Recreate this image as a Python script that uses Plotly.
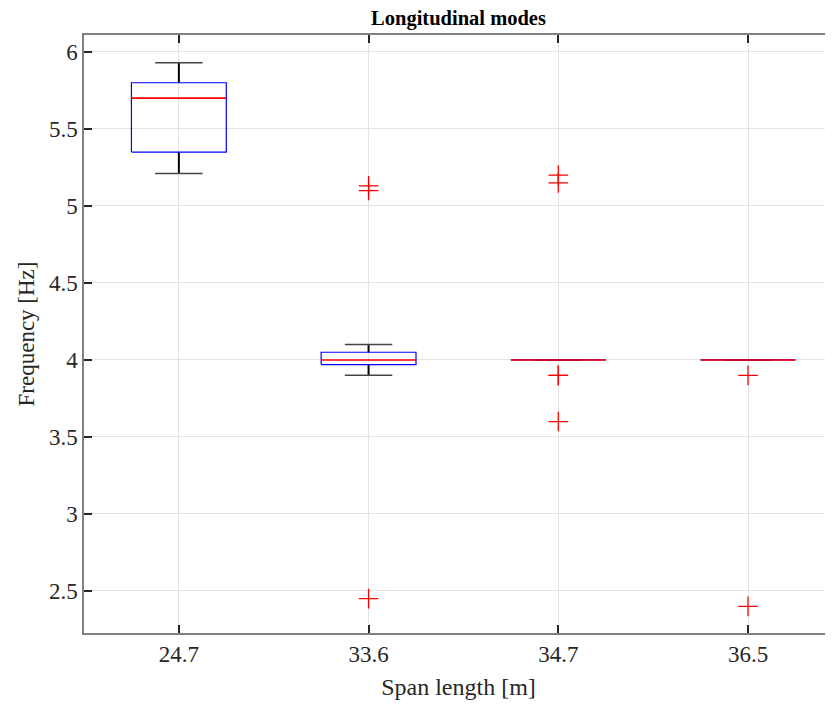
import plotly.graph_objects as go

categories = ["24.7", "33.6", "34.7", "36.5"]
q1 = [5.35, 3.97, 4.0, 4.0]
medians = [5.70, 4.0, 4.0, 4.0]
q3 = [5.80, 4.05, 4.0, 4.0]
lower_whisker = [5.21, 3.90, 4.0, 4.0]
upper_whisker = [5.93, 4.10, 4.0, 4.0]
outliers = [
    [],
    [5.13, 5.10, 2.45],
    [5.20, 5.15, 3.90, 3.90, 3.60],
    [3.90, 2.40],
]

BOX_HALF = 0.25
CAP_HALF = 0.125
FONT = "Liberation Serif, Times New Roman, serif"

# page body has an 8px default margin; compensate (and avoid a scrollbar)
OFF = 8
W, H = 833 - OFF, 709 - 2 * OFF

fig = go.Figure()
xs = list(range(1, len(categories) + 1))

# whiskers (vertical)
wx, wy = [], []
for x, lo, a, b, hi in zip(xs, lower_whisker, q1, q3, upper_whisker):
    wx += [x, x, None, x, x, None]
    wy += [b, hi, None, lo, a, None]
fig.add_trace(go.Scatter(x=wx, y=wy, mode="lines", line=dict(color="black", width=2),
                         hoverinfo="skip", showlegend=False))
# caps
cx, cy = [], []
for x, lo, hi in zip(xs, lower_whisker, upper_whisker):
    cx += [x - CAP_HALF, x + CAP_HALF, None, x - CAP_HALF, x + CAP_HALF, None]
    cy += [hi, hi, None, lo, lo, None]
fig.add_trace(go.Scatter(x=cx, y=cy, mode="lines", line=dict(color="#444444", width=1.5),
                         hoverinfo="skip", showlegend=False))
# boxes
bx, by = [], []
for x, a, b in zip(xs, q1, q3):
    bx += [x - BOX_HALF, x + BOX_HALF, x + BOX_HALF, x - BOX_HALF, x - BOX_HALF, None]
    by += [a, a, b, b, a, None]
fig.add_trace(go.Scatter(x=bx, y=by, mode="lines", line=dict(color="#0000ff", width=1.2),
                         hoverinfo="skip", showlegend=False))
# medians
mx, my = [], []
for x, m in zip(xs, medians):
    mx += [x - BOX_HALF, x + BOX_HALF, None]
    my += [m, m, None]
fig.add_trace(go.Scatter(x=mx, y=my, mode="lines", line=dict(color="#ff0000", width=1.6),
                         hoverinfo="skip", showlegend=False))
# outliers
ox, oy = [], []
for x, vals in zip(xs, outliers):
    for v in vals:
        ox.append(x)
        oy.append(v)
fig.add_trace(go.Scatter(x=ox, y=oy, mode="markers",
                         marker=dict(symbol="cross-thin", size=14,
                                     line=dict(color="#ff0000", width=1.3)),
                         hoverinfo="skip", showlegend=False))

fig.update_layout(
    width=W, height=H,
    margin=dict(l=84 - OFF, r=0, t=35 - OFF, b=709 - 633 - OFF, pad=0),
    plot_bgcolor="white", paper_bgcolor="white",
    font=dict(family=FONT, color="#262626"),
    title=dict(text="<b>Longitudinal modes</b>", x=((84 + 833) / 2 - OFF) / W, xref="container",
               xanchor="center",
               y=1 - (18 - OFF) / H, yanchor="middle", yref="container",
               font=dict(family=FONT, size=20.5, color="black")),
)
fig.update_xaxes(
    range=[0.5, 4.448], tickvals=xs, ticktext=categories,
    showgrid=True, gridcolor="#e3e3e3", gridwidth=1,
    showline=True, linecolor="#808080", linewidth=1.5, mirror="ticks",
    ticks="inside", ticklen=8, tickwidth=1.5, tickcolor="#262626",
    tickfont=dict(family=FONT, size=23, color="#262626"),
    title=dict(text="Span length [m]", font=dict(family=FONT, size=24, color="#262626"), standoff=12),
    zeroline=False, automargin=False,
)
fig.update_yaxes(
    range=[2.227, 6.11], tickvals=[2.5, 3, 3.5, 4, 4.5, 5, 5.5, 6],
    ticktext=["2.5", "3", "3.5", "4", "4.5", "5", "5.5", "6"],
    showgrid=True, gridcolor="#e3e3e3", gridwidth=1,
    showline=True, linecolor="#808080", linewidth=1.5,
    ticks="inside", ticklen=8, tickwidth=1.5, tickcolor="#262626",
    tickfont=dict(family=FONT, size=23, color="#262626"),
    title=dict(text="Frequency [Hz]", font=dict(family=FONT, size=23, color="#262626"), standoff=8),
    zeroline=False, automargin=False,
)

fig.write_html("out.html")
